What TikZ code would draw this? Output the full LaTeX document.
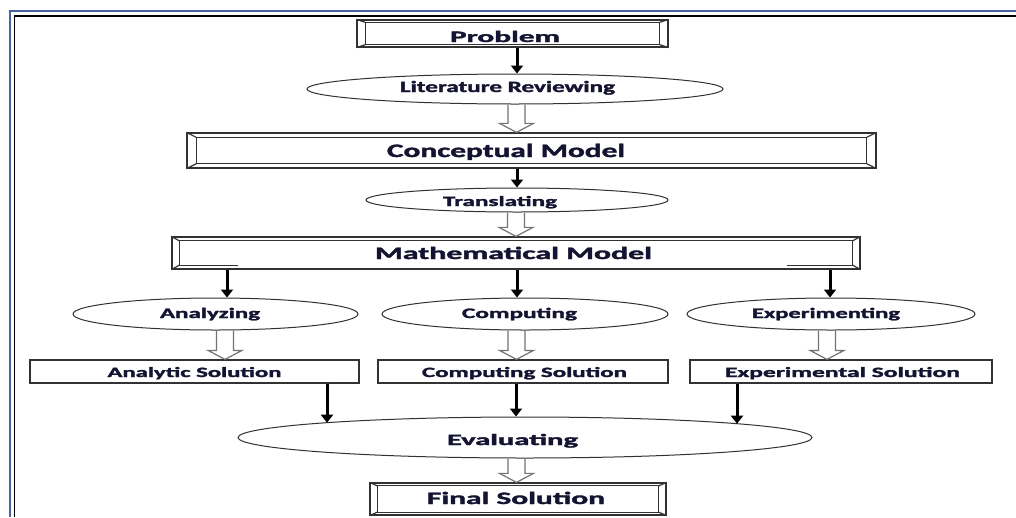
\documentclass[tikz,border=0pt]{standalone}
\usepackage{fontspec}
\newfontfamily\carl{Carlito}[BoldFeatures={FakeBold=1.6}]
\usetikzlibrary{shapes.geometric,arrows.meta,calc}
\definecolor{linec}{RGB}{50,50,50}
\definecolor{txtc}{RGB}{20,20,50}
\definecolor{framblue}{RGB}{70,100,155}
\definecolor{hollowc}{RGB}{115,115,115}
% text: width, size, kern, text
\newcommand\ft[4]{\kern#3pt\resizebox{#1pt}{\height}{\fontsize{#2}{#2}\selectfont\carl\bfseries #4}}
% bevel frame: node, xinset, yinset
\newcommand\bevelin[3]{%
  \draw[bevelsty] ([xshift=#2pt,yshift=#3pt]#1.south west) -- ([xshift=#2pt,yshift=-#3pt]#1.north west)
     -- ([xshift=-#2pt,yshift=-#3pt]#1.north east) -- ([xshift=-#2pt,yshift=#3pt]#1.south east);
  \draw[bevelsty] (#1.north west) -- ([xshift=#2pt,yshift=-#3pt]#1.north west);
  \draw[bevelsty] (#1.south west) -- ([xshift=#2pt,yshift=#3pt]#1.south west);
  \draw[bevelsty] (#1.north east) -- ([xshift=-#2pt,yshift=-#3pt]#1.north east);
  \draw[bevelsty] (#1.south east) -- ([xshift=-#2pt,yshift=#3pt]#1.south east);}
\newcommand\bevel[3]{\bevelin{#1}{#2}{#3}%
  \draw[bevelsty] ([xshift=#2pt,yshift=#3pt]#1.south west) -- ([xshift=-#2pt,yshift=#3pt]#1.south east);}
% hollow block arrow from #1 straight down to the level of #2
\newcommand\hollowarrow[2]{%
  \draw[hollowsty] let \p1=(#1), \p2=(#2) in
    (\x1-8.5pt,\y1) -- (\x1-8.5pt,\y2+9pt) -- (\x1-17pt,\y2+9pt) -- (\x1,\y2)
    -- (\x1+17pt,\y2+9pt) -- (\x1+8.5pt,\y2+9pt) -- (\x1+8.5pt,\y1);}
\begin{document}
\begin{tikzpicture}[x=1pt,y=-1pt,
  frm/.style={rectangle, draw=linec, line width=1.3pt, inner sep=0pt, text=txtc},
  rct/.style={rectangle, draw=linec, line width=1.2pt, inner sep=0pt, text=txtc},
  ell/.style={ellipse, draw=linec, line width=1pt, inner sep=0pt, text=txtc},
  bevelsty/.style={draw=linec, line width=1.2pt},
  hollowsty/.style={draw=hollowc, line width=1.2pt, line join=miter},
  blk/.style={draw=black, line width=3pt, -{Triangle[length=8pt,width=12pt]}},
  th/.style 2 args={text height=#1pt, text depth=#2pt}]
\useasboundingbox (0,0) rectangle (1016,517);
\fill[white] (0,0) rectangle (1016,517);
% page frame
\draw[framblue, line width=2.2pt] (10,517) -- (10,11) -- (1016,11);
\draw[black, line width=1.6pt] (14.5,517) -- (14.5,15.7) -- (1016,15.7);

% nodes
\node[frm, minimum width=311pt, minimum height=27pt, th={18}{1}] (prob) at (512.5,33.5) {\ft{110}{16}{-15}{Problem}};
\node[ell, minimum width=416pt, minimum height=30pt, th={8}{2}] (lit) at (515,89) {\ft{215}{15.8}{-15}{Literature Reviewing}};
\node[frm, minimum width=689pt, minimum height=35pt, th={14}{1}] (conc) at (531.5,150.5) {\ft{238}{19}{-51}{Conceptual Model}};
\node[ell, minimum width=302pt, minimum height=24pt, th={13}{1}] (trans) at (517,200) {\ft{114}{14.2}{-34}{Translating}};
\node[frm, minimum width=688pt, minimum height=32pt, th={13}{1}] (math) at (516,253) {\ft{277}{17.4}{-5}{Mathematical Model}};
\node[ell, minimum width=285pt, minimum height=32pt, th={9}{1}] (ana) at (215.5,314) {\ft{100}{14.5}{-11}{Analyzing}};
\node[ell, minimum width=286pt, minimum height=32pt, th={9}{1}] (comp) at (525,314) {\ft{115}{14.5}{-11}{Computing}};
\node[ell, minimum width=288pt, minimum height=32pt, th={9}{1}] (expe) at (831,314) {\ft{148}{14.5}{-10}{Experimenting}};
\node[rct, minimum width=329pt, minimum height=23pt, th={12}{1}] (anasol) at (194.5,371.5) {\ft{174}{14.2}{0}{Analytic Solution}};
\node[rct, minimum width=290pt, minimum height=23pt, th={12}{1}] (compsol) at (523,371.5) {\ft{205}{14.2}{3}{Computing Solution}};
\node[rct, minimum width=302pt, minimum height=23pt, th={12}{1}] (expsol) at (841,371.5) {\ft{235}{14.2}{3}{Experimental Solution}};
\node[ell, minimum width=574pt, minimum height=41pt, th={16}{1}] (eval) at (525,437.5) {\ft{131}{15.8}{-25}{Evaluating}};
\node[frm, minimum width=296pt, minimum height=32pt, th={11}{1}] (final) at (518,499) {\ft{178}{17.4}{-4}{Final Solution}};

% bevels
\bevel{prob}{9}{3}
\bevel{conc}{10}{5}
\bevelin{math}{8}{4.5}
\draw[bevelsty] ([xshift=8pt,yshift=4.5pt]math.south west) -- ([xshift=-278pt,yshift=4.5pt]math.south);
\draw[bevelsty] ([xshift=271pt,yshift=4.5pt]math.south) -- ([xshift=-8pt,yshift=4.5pt]math.south east);
\bevel{final}{8}{3.5}

% black arrows
\draw[blk] ([xshift=4.5pt]prob.south) -- ([xshift=4.5pt]prob.south |- lit.north);
\draw[blk] ([xshift=-14.5pt]conc.south) -- ([xshift=-14.5pt]conc.south |- trans.north);
\draw[blk] ([xshift=-289pt]math.south) -- ([xshift=-289pt]math.south |- ana.north);
\draw[blk] ([xshift=1pt]math.south) -- ([xshift=1pt]math.south |- comp.north);
\draw[blk] ([xshift=314pt]math.south) -- ([xshift=314pt]math.south |- expe.north);
\draw[blk] ([xshift=132.5pt]anasol.south) -- ([xshift=-198pt,yshift=14.8pt]eval.center);
\draw[blk] ([xshift=-7pt]compsol.south) -- ([xshift=-7pt]compsol.south |- eval.north);
\draw[blk] ([xshift=-104pt]expsol.south) -- ([xshift=212pt,yshift=13.8pt]eval.center);

% hollow arrows
\hollowarrow{[xshift=1.5pt]lit.south}{conc.north}
\hollowarrow{[xshift=-1pt]trans.south}{math.north}
\hollowarrow{[xshift=9.5pt]ana.south}{anasol.north}
\hollowarrow{[xshift=-8.5pt]comp.south}{compsol.north}
\hollowarrow{[xshift=-4pt]expe.south}{expsol.north}
\hollowarrow{[xshift=-8.5pt]eval.south}{final.north}
\end{tikzpicture}
\end{document}
